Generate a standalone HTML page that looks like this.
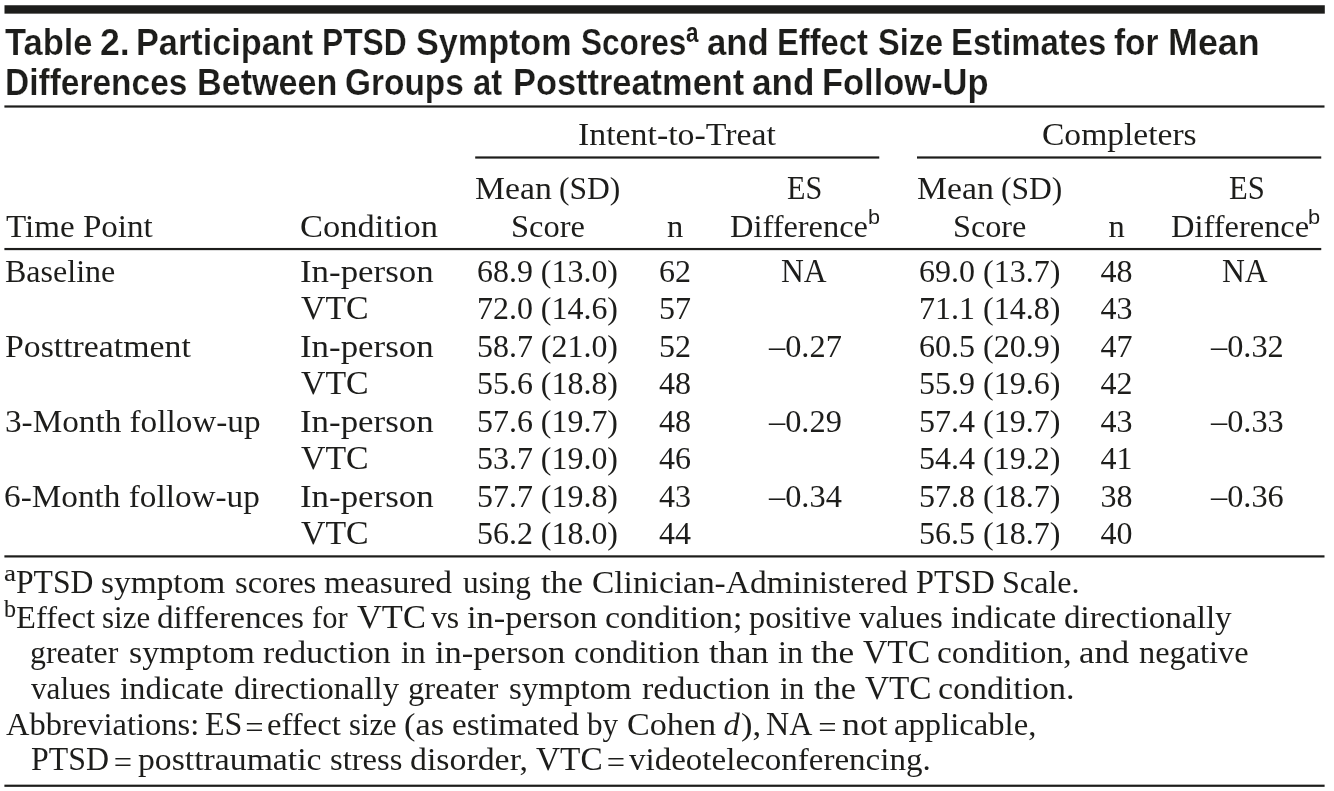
<!DOCTYPE html>
<html lang="en">
<head>
<meta charset="utf-8">
<title>Table 2</title>
<style>
html,body{margin:0;padding:0;background:#fff}
body{width:1334px;height:791px;position:relative;overflow:hidden;color:#1d1d1b}
#fig{position:absolute;left:0;top:0;width:1334px;height:791px;background:#fff}
.t,.sup{position:absolute;white-space:pre;line-height:60px;font-family:'Liberation Serif',serif;font-size:32.5px;transform-origin:0 50%}
.sup{font-family:'Liberation Sans',sans-serif}
.title .t,.title .sup{font-family:'Liberation Sans',sans-serif;font-weight:700;font-size:36.4px;-webkit-text-stroke:0.2px #fff}
.title .sup{-webkit-text-stroke:0}
.rules{position:absolute;left:0;top:0}
.fsup{-webkit-text-stroke:0.12px #1d1d1b}
i{font-style:italic}
</style>
</head>
<body>
<div id="fig">
<svg class="rules" width="1334" height="791" viewBox="0 0 1334 791" aria-hidden="true">
<rect x="4.5" y="5.25" width="1320.3" height="8.4" fill="#1d1d1b"/>
<rect x="4.4" y="105.4" width="1320.1" height="2.2" fill="#1d1d1b"/>
<rect x="475.2" y="156.4" width="404.05" height="2.2" fill="#1d1d1b"/>
<rect x="917" y="156.4" width="404.25" height="2.2" fill="#1d1d1b"/>
<rect x="4.4" y="247.95" width="1316.85" height="2.2" fill="#1d1d1b"/>
<rect x="4.4" y="555.3" width="1320.1" height="2.2" fill="#1d1d1b"/>
<rect x="4.4" y="784.65" width="1320.2" height="2.2" fill="#1d1d1b"/>
</svg>
<div class="title">
<span class="t" style="left:4.6px;top:12.9px;transform:scaleX(0.9471)">Table </span>
<span class="t" style="left:100.44px;top:12.9px;transform:scaleX(0.9792)">2. </span>
<span class="t" style="left:136px;top:12.9px;transform:scaleX(0.9416)">Participant </span>
<span class="t" style="left:321.86px;top:12.9px;transform:scaleX(0.8730)">PTSD </span>
<span class="t" style="left:415.8px;top:12.9px;transform:scaleX(0.9384)">Symptom </span>
<span class="t" style="left:580.59px;top:12.9px;transform:scaleX(0.8673)">Scores</span>
<span class="sup" style="left:685.57px;top:3.2px;font-size:27px;transform:scaleX(0.8286)">a</span>
<span class="t" style="left:706.51px;top:12.9px;transform:scaleX(0.9550)">and </span>
<span class="t" style="left:776.8px;top:12.9px;transform:scaleX(0.8991)">Effect </span>
<span class="t" style="left:877.86px;top:12.9px;transform:scaleX(0.8939)">Size </span>
<span class="t" style="left:951.09px;top:12.9px;transform:scaleX(0.9031)">Estimates </span>
<span class="t" style="left:1114.42px;top:12.9px;transform:scaleX(0.9171)">for </span>
<span class="t" style="left:1168.29px;top:12.9px;transform:scaleX(0.9858)">Mean</span>
<span class="t" style="left:5.05px;top:52.8px;transform:scaleX(0.9201)">Differences </span>
<span class="t" style="left:196.71px;top:52.8px;transform:scaleX(0.9378)">Between </span>
<span class="t" style="left:345.3px;top:52.8px;transform:scaleX(0.9178)">Groups </span>
<span class="t" style="left:472.97px;top:52.8px;transform:scaleX(0.9004)">at </span>
<span class="t" style="left:512.69px;top:52.8px;transform:scaleX(0.9451)">Posttreatment </span>
<span class="t" style="left:751.6px;top:52.8px;transform:scaleX(0.9648)">and </span>
<span class="t" style="left:821.68px;top:52.8px;transform:scaleX(0.9472)">Follow-Up</span>
</div>
<div class="thead">
<span class="t" style="left:578.1px;top:104px;transform:scaleX(1.0414)">Intent-to-Treat</span>
<span class="t" style="left:1041.59px;top:104px;transform:scaleX(1.0319)">Completers</span>
<span class="t" style="left:6.39px;top:196px;transform:scaleX(1.0173)">Time Point</span>
<span class="t" style="left:299.8px;top:196px;transform:scaleX(1.0603)">Condition</span>
<span class="t" style="left:475.29px;top:158px;transform:scaleX(1.0383)">Mean </span>
<span class="t" style="left:559.09px;top:158px;transform:scaleX(0.9693)">(SD)</span>
<span class="t" style="left:511.38px;top:196px;transform:scaleX(0.9992)">Score</span>
<span class="t" style="left:667px;top:196px">n</span>
<span class="t" style="left:787.3px;top:158px;font-size:33.4px;transform:scaleX(0.9041)">ES</span>
<span class="t" style="left:730.14px;top:196px;transform:scaleX(0.9976)">Difference</span>
<span class="sup" style="left:867.55px;top:187px;font-size:20.8px;transform:scaleX(1.0386)">b</span>
<span class="t" style="left:916.79px;top:158px;transform:scaleX(1.0383)">Mean </span>
<span class="t" style="left:1000.59px;top:158px;transform:scaleX(0.9693)">(SD)</span>
<span class="t" style="left:952.79px;top:196px;transform:scaleX(0.9922)">Score</span>
<span class="t" style="left:1108.5px;top:196px">n</span>
<span class="t" style="left:1228.58px;top:158px;font-size:33.4px;transform:scaleX(0.9180)">ES</span>
<span class="t" style="left:1170.84px;top:196px;transform:scaleX(0.9990)">Difference</span>
<span class="sup" style="left:1308.33px;top:187px;font-size:20.8px;transform:scaleX(1.0494)">b</span>
</div>
<div class="tbody">
<span class="t" style="left:5.1px;top:241px;transform:scaleX(0.9853)">Baseline</span>
<span class="t" style="left:5.04px;top:316px;transform:scaleX(1.0395)">Posttreatment</span>
<span class="t" style="left:4.62px;top:391px;transform:scaleX(1.0220)">3-Month follow-up</span>
<span class="t" style="left:4.29px;top:466px;transform:scaleX(1.0233)">6-Month follow-up</span>
<span class="t" style="left:299.56px;top:241px;transform:scaleX(1.0730)">In-person</span>
<span class="t" style="left:301.41px;top:278px;font-size:33.4px;transform:scaleX(1.0123)">VTC</span>
<span class="t" style="left:299.56px;top:316px;transform:scaleX(1.0730)">In-person</span>
<span class="t" style="left:301.41px;top:353px;font-size:33.4px;transform:scaleX(1.0123)">VTC</span>
<span class="t" style="left:299.56px;top:391px;transform:scaleX(1.0730)">In-person</span>
<span class="t" style="left:301.41px;top:428px;font-size:33.4px;transform:scaleX(1.0123)">VTC</span>
<span class="t" style="left:299.56px;top:466px;transform:scaleX(1.0730)">In-person</span>
<span class="t" style="left:301.41px;top:503px;font-size:33.4px;transform:scaleX(1.0123)">VTC</span>
<span class="t" style="left:477.34px;top:241px;font-size:32px;transform:scaleX(0.9978)">68.9 (13.0)</span>
<span class="t" style="left:659.1px;top:241px;font-size:32px">62</span>
<span class="t" style="left:919.08px;top:241px;font-size:32px;transform:scaleX(1.0014)">69.0 (13.7)</span>
<span class="t" style="left:1100.4px;top:241px;font-size:32px">48</span>
<span class="t" style="left:477.34px;top:278px;font-size:32px;transform:scaleX(0.9978)">72.0 (14.6)</span>
<span class="t" style="left:659.1px;top:278px;font-size:32px">57</span>
<span class="t" style="left:919.08px;top:278px;font-size:32px;transform:scaleX(1.0014)">71.1 (14.8)</span>
<span class="t" style="left:1100.4px;top:278px;font-size:32px">43</span>
<span class="t" style="left:477.34px;top:316px;font-size:32px;transform:scaleX(0.9978)">58.7 (21.0)</span>
<span class="t" style="left:659.1px;top:316px;font-size:32px">52</span>
<span class="t" style="left:919.08px;top:316px;font-size:32px;transform:scaleX(1.0014)">60.5 (20.9)</span>
<span class="t" style="left:1100.4px;top:316px;font-size:32px">47</span>
<span class="t" style="left:477.34px;top:353px;font-size:32px;transform:scaleX(0.9978)">55.6 (18.8)</span>
<span class="t" style="left:659.1px;top:353px;font-size:32px">48</span>
<span class="t" style="left:919.08px;top:353px;font-size:32px;transform:scaleX(1.0014)">55.9 (19.6)</span>
<span class="t" style="left:1100.4px;top:353px;font-size:32px">42</span>
<span class="t" style="left:477.34px;top:391px;font-size:32px;transform:scaleX(0.9978)">57.6 (19.7)</span>
<span class="t" style="left:659.1px;top:391px;font-size:32px">48</span>
<span class="t" style="left:919.08px;top:391px;font-size:32px;transform:scaleX(1.0014)">57.4 (19.7)</span>
<span class="t" style="left:1100.4px;top:391px;font-size:32px">43</span>
<span class="t" style="left:477.34px;top:428px;font-size:32px;transform:scaleX(0.9978)">53.7 (19.0)</span>
<span class="t" style="left:659.1px;top:428px;font-size:32px">46</span>
<span class="t" style="left:919.08px;top:428px;font-size:32px;transform:scaleX(1.0014)">54.4 (19.2)</span>
<span class="t" style="left:1100.4px;top:428px;font-size:32px">41</span>
<span class="t" style="left:477.34px;top:466px;font-size:32px;transform:scaleX(0.9978)">57.7 (19.8)</span>
<span class="t" style="left:659.1px;top:466px;font-size:32px">43</span>
<span class="t" style="left:919.08px;top:466px;font-size:32px;transform:scaleX(1.0014)">57.8 (18.7)</span>
<span class="t" style="left:1100.4px;top:466px;font-size:32px">38</span>
<span class="t" style="left:477.34px;top:503px;font-size:32px;transform:scaleX(0.9978)">56.2 (18.0)</span>
<span class="t" style="left:659.1px;top:503px;font-size:32px">44</span>
<span class="t" style="left:919.08px;top:503px;font-size:32px;transform:scaleX(1.0014)">56.5 (18.7)</span>
<span class="t" style="left:1100.4px;top:503px;font-size:32px">40</span>
<span class="t" style="left:781.05px;top:241px;font-size:33.4px;transform:scaleX(0.9465)">NA</span>
<span class="t" style="left:1222.3px;top:241px;font-size:33.4px;transform:scaleX(0.9476)">NA</span>
<span class="t" style="left:769px;top:316px;font-size:32px;transform:scaleX(1.0113)">–0.27</span>
<span class="t" style="left:1210.75px;top:316px;font-size:32px;transform:scaleX(1.0111)">–0.32</span>
<span class="t" style="left:769px;top:391px;font-size:32px;transform:scaleX(1.0113)">–0.29</span>
<span class="t" style="left:1210.75px;top:391px;font-size:32px;transform:scaleX(1.0111)">–0.33</span>
<span class="t" style="left:769px;top:466px;font-size:32px;transform:scaleX(1.0113)">–0.34</span>
<span class="t" style="left:1210.75px;top:466px;font-size:32px;transform:scaleX(1.0111)">–0.36</span>
</div>
<div class="foot">
<span class="t fsup" style="left:3.77px;top:543px;font-size:24px;transform:scaleX(1.1270)">a</span>
<span class="t" style="left:15.55px;top:552px;font-size:33.4px;transform:scaleX(0.9490)">PTSD </span>
<span class="t" style="left:101.29px;top:552px;transform:scaleX(1.0275)">symptom </span>
<span class="t" style="left:235.33px;top:552px;transform:scaleX(1.0007)">scores </span>
<span class="t" style="left:324.29px;top:552px;transform:scaleX(1.0283)">measured </span>
<span class="t" style="left:462.77px;top:552px;transform:scaleX(0.9632)">using </span>
<span class="t" style="left:541.06px;top:552px;transform:scaleX(1.0545)">the </span>
<span class="t" style="left:591.9px;top:552px;transform:scaleX(1.0291)">Clinician-Administered </span>
<span class="t" style="left:915.73px;top:552px;font-size:33.4px;transform:scaleX(0.9667)">PTSD </span>
<span class="t" style="left:1001.8px;top:552px;transform:scaleX(0.9885)">Scale.</span>
<span class="t fsup" style="left:4.16px;top:579px;font-size:24.5px;transform:scaleX(0.9804)">b</span>
<span class="t" style="left:15.73px;top:587px;transform:scaleX(1.0020)">Effect </span>
<span class="t" style="left:101.99px;top:587px;transform:scaleX(0.9536)">size </span>
<span class="t" style="left:157.03px;top:587px;transform:scaleX(1.0221)">differences </span>
<span class="t" style="left:311.85px;top:587px;transform:scaleX(0.9400)">for </span>
<span class="t" style="left:357.1px;top:587px;font-size:33.4px;transform:scaleX(1.0309)">VTC </span>
<span class="t" style="left:431.31px;top:587px;transform:scaleX(0.9754)">vs </span>
<span class="t" style="left:467.49px;top:587px;transform:scaleX(1.0605)">in-person </span>
<span class="t" style="left:605.45px;top:587px;transform:scaleX(1.0430)">condition; </span>
<span class="t" style="left:749.38px;top:587px;transform:scaleX(0.9935)">positive </span>
<span class="t" style="left:858.81px;top:587px;transform:scaleX(1.0095)">values </span>
<span class="t" style="left:950.92px;top:587px;transform:scaleX(1.0226)">indicate </span>
<span class="t" style="left:1063.73px;top:587px;transform:scaleX(1.0210)">directionally</span>
<span class="t" style="left:30.25px;top:622px;transform:scaleX(0.9784)">greater </span>
<span class="t" style="left:129.27px;top:622px;transform:scaleX(1.0401)">symptom </span>
<span class="t" style="left:262.54px;top:622px;transform:scaleX(1.0404)">reduction </span>
<span class="t" style="left:400.96px;top:622px;transform:scaleX(0.9775)">in </span>
<span class="t" style="left:434.69px;top:622px;transform:scaleX(1.0613)">in-person </span>
<span class="t" style="left:573.68px;top:622px;transform:scaleX(1.0229)">condition </span>
<span class="t" style="left:709.36px;top:622px;transform:scaleX(1.0640)">than </span>
<span class="t" style="left:777.65px;top:622px;transform:scaleX(0.9901)">in </span>
<span class="t" style="left:810.84px;top:622px;transform:scaleX(1.0861)">the </span>
<span class="t" style="left:862.91px;top:622px;font-size:33.4px;transform:scaleX(1.0077)">VTC </span>
<span class="t" style="left:936.97px;top:622px;transform:scaleX(1.0277)">condition, </span>
<span class="t" style="left:1078.73px;top:622px;transform:scaleX(1.0662)">and </span>
<span class="t" style="left:1138.55px;top:622px;transform:scaleX(0.9958)">negative</span>
<span class="t" style="left:31.32px;top:658px;transform:scaleX(0.9605)">values </span>
<span class="t" style="left:119.93px;top:658px;transform:scaleX(1.0097)">indicate </span>
<span class="t" style="left:233.75px;top:658px;transform:scaleX(1.0044)">directionally </span>
<span class="t" style="left:408.11px;top:658px;transform:scaleX(1.0021)">greater </span>
<span class="t" style="left:508.61px;top:658px;transform:scaleX(1.0141)">symptom </span>
<span class="t" style="left:641.93px;top:658px;transform:scaleX(1.0454)">reduction </span>
<span class="t" style="left:779.83px;top:658px;transform:scaleX(0.9600)">in </span>
<span class="t" style="left:814.36px;top:658px;transform:scaleX(1.0545)">the </span>
<span class="t" style="left:864.61px;top:658px;font-size:33.4px;transform:scaleX(0.9968)">VTC </span>
<span class="t" style="left:937.95px;top:658px;transform:scaleX(1.0423)">condition.</span>
<span class="t" style="left:6.05px;top:694px">Abbreviations: </span>
<span class="t" style="left:205.08px;top:694px;font-size:33.4px;transform:scaleX(0.9600)">ES </span>
<span class="t" style="left:245.18px;top:696.6px">= </span>
<span class="t" style="left:266.98px;top:694px;transform:scaleX(1.0055)">effect </span>
<span class="t" style="left:348.69px;top:694px;transform:scaleX(0.9400)">size </span>
<span class="t" style="left:404.47px;top:694px;transform:scaleX(1.0563)">(as </span>
<span class="t" style="left:451.96px;top:694px;transform:scaleX(1.0197)">estimated </span>
<span class="t" style="left:587.11px;top:694px;transform:scaleX(0.9600)">by </span>
<span class="t" style="left:626.87px;top:694px;transform:scaleX(1.0512)">Cohen </span>
<span class="t" style="left:723.48px;top:694px"><i>d</i></span>
<span class="t" style="left:741.46px;top:694px;transform:scaleX(1.0600)">), </span>
<span class="t" style="left:766.47px;top:694px;font-size:33.4px;transform:scaleX(0.9600)">NA </span>
<span class="t" style="left:818.33px;top:696.6px">= </span>
<span class="t" style="left:841.9px;top:694px;transform:scaleX(1.1000)">not </span>
<span class="t" style="left:893.81px;top:694px;transform:scaleX(1.0048)">applicable,</span>
<span class="t" style="left:30.75px;top:729px;font-size:33.4px;transform:scaleX(0.9541)">PTSD </span>
<span class="t" style="left:113.83px;top:731.6px">= </span>
<span class="t" style="left:137.65px;top:729px;transform:scaleX(1.0376)">posttraumatic </span>
<span class="t" style="left:329.62px;top:729px;transform:scaleX(1.0022)">stress </span>
<span class="t" style="left:410.41px;top:729px;transform:scaleX(1.0415)">disorder, </span>
<span class="t" style="left:536.21px;top:729px;font-size:33.4px;transform:scaleX(0.9984)">VTC </span>
<span class="t" style="left:606.73px;top:731.6px">= </span>
<span class="t" style="left:629.1px;top:729px;transform:scaleX(1.0162)">videoteleconferencing.</span>
</div>
</div>
</body>
</html>
